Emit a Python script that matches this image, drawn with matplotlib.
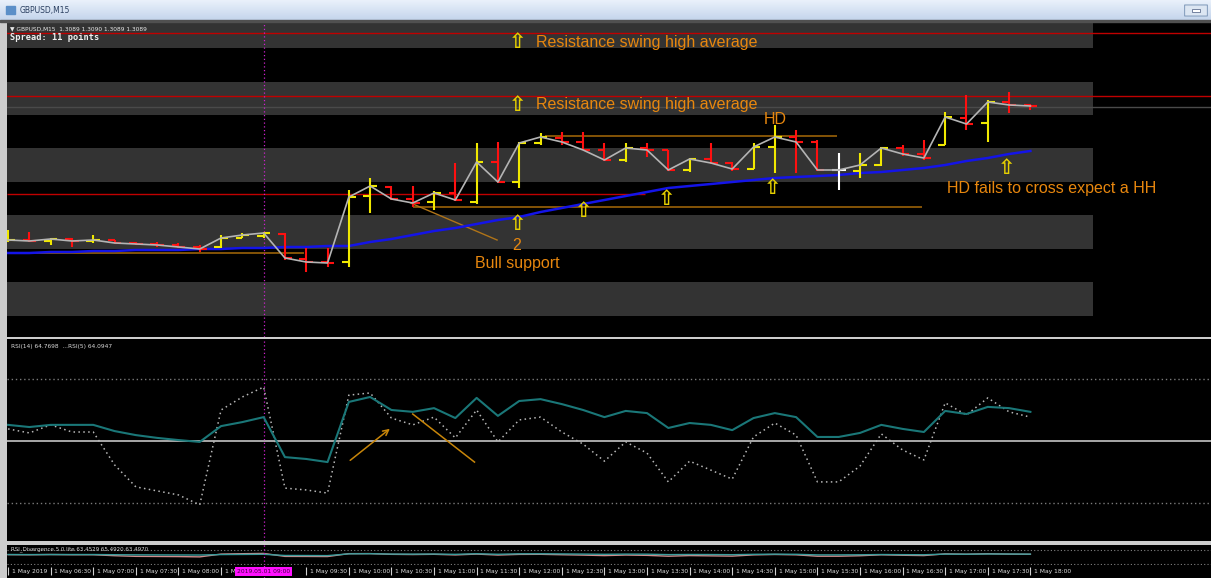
import numpy as np
import matplotlib
matplotlib.use("Agg")
import matplotlib.pyplot as plt
from matplotlib.colors import LinearSegmentedColormap
from matplotlib.patches import Rectangle, FancyBboxPatch

# ---------------- data ----------------
open_ = [1.30759, 1.30760, 1.30759, 1.30761, 1.30759, 1.30760, 1.30757, 1.30756, 1.30755, 1.30753,
         1.30753, 1.30762, 1.30764, 1.30766, 1.30741, 1.30738, 1.30738, 1.30804, 1.30813, 1.30801,
         1.30798, 1.30807, 1.30798, 1.30838, 1.30818, 1.30857, 1.30862, 1.30858, 1.30850, 1.30840,
         1.30852, 1.30850, 1.30830, 1.30841, 1.30837, 1.30831, 1.30853, 1.30863, 1.30858, 1.30830,
         1.30829, 1.30835, 1.30852, 1.30846, 1.30855, 1.30882, 1.30877, 1.30898, 1.30895]
high_ = [1.30770, 1.30768, 1.30762, 1.30762, 1.30765, 1.30760, 1.30758, 1.30758, 1.30757, 1.30755,
         1.30765, 1.30767, 1.30768, 1.30767, 1.30752, 1.30752, 1.30810, 1.30822, 1.30814, 1.30814,
         1.30809, 1.30837, 1.30857, 1.30858, 1.30858, 1.30867, 1.30868, 1.30868, 1.30857, 1.30857,
         1.30857, 1.30850, 1.30842, 1.30857, 1.30838, 1.30857, 1.30875, 1.30870, 1.30860, 1.30847,
         1.30847, 1.30853, 1.30855, 1.30860, 1.30888, 1.30905, 1.30900, 1.30908, 1.30896]
low_ = [1.30758, 1.30758, 1.30755, 1.30753, 1.30757, 1.30756, 1.30755, 1.30753, 1.30752, 1.30748,
        1.30752, 1.30762, 1.30762, 1.30740, 1.30728, 1.30733, 1.30733, 1.30787, 1.30800, 1.30793,
        1.30790, 1.30799, 1.30796, 1.30817, 1.30812, 1.30855, 1.30855, 1.30850, 1.30839, 1.30838,
        1.30843, 1.30829, 1.30828, 1.30836, 1.30829, 1.30831, 1.30827, 1.30827, 1.30829, 1.30810,
        1.30822, 1.30834, 1.30844, 1.30840, 1.30855, 1.30870, 1.30858, 1.30887, 1.30890]
close_ = [1.30760, 1.30759, 1.30761, 1.30759, 1.30760, 1.30757, 1.30756, 1.30755, 1.30753, 1.30751,
          1.30762, 1.30765, 1.30767, 1.30742, 1.30738, 1.30737, 1.30803, 1.30814, 1.30801, 1.30797,
          1.30807, 1.30800, 1.30838, 1.30818, 1.30857, 1.30863, 1.30858, 1.30850, 1.30840, 1.30852,
          1.30850, 1.30830, 1.30841, 1.30837, 1.30831, 1.30853, 1.30863, 1.30858, 1.30830, 1.30830,
          1.30835, 1.30852, 1.30846, 1.30842, 1.30883, 1.30876, 1.30898, 1.30895, 1.30894]
ma_blue = [1.30747, 1.30747, 1.30748, 1.30748, 1.30749, 1.30749, 1.30750, 1.30750, 1.30750, 1.30751,
           1.30751, 1.30752, 1.30752, 1.30753, 1.30753, 1.30754, 1.30754, 1.30758, 1.30761, 1.30765,
           1.30769, 1.30772, 1.30776, 1.30780, 1.30783, 1.30788, 1.30792, 1.30796, 1.30800, 1.30804,
           1.30808, 1.30812, 1.30814, 1.30816, 1.30818, 1.30820, 1.30822, 1.30823, 1.30824, 1.30825,
           1.30827, 1.30828, 1.30830, 1.30832, 1.30835, 1.30839, 1.30842, 1.30846, 1.30849]

band_low = [1.30952, 1.30885, 1.30818, 1.30751, 1.30684]
band_high = [1.30985, 1.30918, 1.30852, 1.30785, 1.30718]

red_levels = [1.30967, 1.30904]          # full width
red_partial = 1.30806                    # left part only
bid_level = 1.30893
orange_levels = [(1.30864, 25.2, 38.9), (1.30793, 19.0, 42.9), (1.30747, -0.05, 13.9)]

rsi_slow = [55.2, 54.5, 55.2, 55.2, 55.2, 53.2, 51.9, 51.0, 50.3, 49.7,
            54.8, 56.1, 57.7, 44.8, 44.2, 43.2, 62.6, 64.2, 60.0, 59.4,
            60.6, 57.4, 63.9, 58.1, 62.9, 63.5, 61.9, 60.0, 57.7, 59.7,
            59.0, 54.2, 55.8, 55.2, 53.5, 57.4, 59.0, 57.7, 51.3, 51.3,
            52.6, 55.2, 53.9, 52.9, 59.7, 58.7, 61.0, 60.6, 59.4]
rsi_fast = [53.9, 52.6, 55.2, 52.9, 52.9, 42.3, 35.2, 33.9, 32.6, 29.4,
            60.0, 64.2, 67.4, 34.8, 34.2, 33.2, 64.8, 65.5, 57.4, 55.2,
            57.7, 51.0, 60.0, 49.7, 56.8, 57.7, 52.9, 49.0, 43.5, 49.7,
            46.1, 36.8, 43.5, 40.6, 37.7, 51.3, 55.8, 51.9, 36.8, 36.8,
            41.9, 52.3, 47.1, 43.9, 62.3, 58.4, 63.9, 59.4, 57.7]
rsi_levels = [70, 50, 30]

tick_labels = ["1 May 2019", "1 May 06:30", "1 May 07:00", "1 May 07:30", "1 May 08:00",
               "1 May 08:30", "1 May 09:00", "1 May 09:30", "1 May 10:00", "1 May 10:30",
               "1 May 11:00", "1 May 11:30", "1 May 12:00", "1 May 12:30", "1 May 13:00",
               "1 May 13:30", "1 May 14:00", "1 May 14:30", "1 May 15:00", "1 May 15:30",
               "1 May 16:00", "1 May 16:30", "1 May 17:00", "1 May 17:30", "1 May 18:00"]
tick_bars = list(range(0, 49, 2))
cursor_bar = 12

# ---------------- figure ----------------
W, H = 1211, 578
fig = plt.figure(figsize=(W / 100, H / 100), dpi=100)
fig.patch.set_facecolor('#cccccc')


def pax(x0, y0, x1, y1):
    return fig.add_axes([x0 / W, 1 - y1 / H, (x1 - x0) / W, (y1 - y0) / H])


XL = (-0.05, 56.48)
n = len(close_)
x = np.arange(n)
o, h, l, c = map(np.array, (open_, high_, low_, close_))
bar_col = np.where(c > o, '#f0e800', np.where(c < o, '#ff1010', '#ffffff'))

ORANGE = '#e8870e'
ARROW_Y = '#e6d000'
MAG = '#cc22cc'

# title bar
axt = pax(0, 0, W, 20)
cm = LinearSegmentedColormap.from_list('tb', ['#eaf1fb', '#c4d5ec'])
axt.imshow(np.linspace(0, 1, 32)[:, None], cmap=cm, aspect='auto', extent=[0, 1, 0, 1])
axt.set_xlim(0, 1); axt.set_ylim(0, 1); axt.axis('off')
axt.add_patch(Rectangle((6 / W, 0.3), 9 / W, 0.4, color='#5b8fc8'))
axt.text(20 / W, 0.5, "GBPUSD,M15", fontsize=5.5, color='#2a3f60', va='center', ha='left')
axt.add_patch(FancyBboxPatch((1187 / W, 0.2), 18 / W, 0.55, boxstyle='round,pad=0.002',
                             fc='#dce6f2', ec='#8aa2c0', lw=0.8))
axt.add_patch(Rectangle((1192 / W, 0.42), 8 / W, 0.12, fc='white', ec='#607090', lw=0.6))
fig.patches.append(Rectangle((0, 1 - 22 / H), 1, 2 / H, transform=fig.transFigure,
                             color='#505050', zorder=0))

# ---------------- main price panel ----------------
ax = pax(7, 22, W, 337)
ax.set_facecolor('black')
ax.set_xlim(*XL)
ax.set_ylim(1.30663, 1.30978)
for lo, hi in zip(band_low, band_high):
    ax.fill_between([XL[0], 50.94], lo, hi, color='#333333', lw=0, zorder=0)
for lv in red_levels:
    ax.axhline(lv, color='#c00000', lw=1.0, zorder=1)
ax.hlines(red_partial, XL[0], 29.9, color='#c00000', lw=1.0, zorder=1)
ax.axhline(bid_level, color='#4a4a4a', lw=1.0, zorder=0.5)
for lv, x0, x1 in orange_levels:
    ax.hlines(lv, x0, x1, color='#a86a08', lw=1.1, zorder=1)
ax.plot([18.9, 22.96], [1.30797, 1.30760], color='#b07418', lw=1.0, zorder=1)
ax.axvline(cursor_bar, color=MAG, lw=0.9, ls=(0, (1, 2)), zorder=1)
ax.plot(x, ma_blue, color='#1414e8', lw=1.8, zorder=2)

tk = 0.32
ax.vlines(x, l, h, colors=bar_col, lw=1.5, zorder=3)
ax.hlines(o, x - tk, x, colors=bar_col, lw=1.5, zorder=3)
ax.hlines(c, x, x + tk, colors=bar_col, lw=1.5, zorder=3)
ax.plot(x, c, color='#b4b4b4', lw=1.2, zorder=4)

tfont = dict(family='Liberation Sans', color=ORANGE, fontsize=11.5)
afont = dict(family='DejaVu Sans', color=ARROW_Y, fontsize=15, fontweight='bold',
             ha='center', va='center')
for yv in (1.30958, 1.30895):
    ax.text(23.94, yv, '\u21e7', **afont, zorder=6)
    ax.text(24.8, yv, 'Resistance swing high average', va='center', ha='left', **tfont, zorder=6)
for bx, yv in [(23.94, 1.30776), (27.0, 1.30789), (30.9, 1.30801), (35.9, 1.30812), (46.9, 1.30832)]:
    ax.text(bx, yv, '\u21e7', **afont, zorder=6)
ax.text(36.0, 1.30881, 'HD', ha='center', va='center', **tfont, zorder=6)
ax.text(44.1, 1.30812, 'HD fails to cross expect a HH', ha='left', va='center', **tfont, zorder=6)
ax.text(21.9, 1.30736, 'Bull support', ha='left', va='center', **tfont, zorder=6)
ax.text(23.9, 1.30755, '2', ha='center', va='center', **tfont, zorder=6)

ax.text(0.0025, 0.978, "\u25bc GBPUSD,M15  1.3089 1.3090 1.3089 1.3089", transform=ax.transAxes,
        fontsize=4.2, color='#e8e8e8', family='DejaVu Sans', va='center', ha='left')
ax.text(0.0025, 0.95, "Spread: 11 points", transform=ax.transAxes,
        fontsize=6.2, color='#f0f0f0', family='DejaVu Sans Mono', fontweight='bold',
        va='center', ha='left')
ax.set_xticks([]); ax.set_yticks([])
for s in ax.spines.values():
    s.set_visible(False)

# ---------------- RSI panel ----------------
ar = pax(7, 339, W, 541)
ar.set_facecolor('black')
ar.set_xlim(*XL)
ar.set_ylim(17.74, 82.9)
ar.axhline(rsi_levels[0], color='#7a7a7a', lw=1.0, ls=(0, (1, 2)))
ar.axhline(rsi_levels[1], color='#a8a8a8', lw=1.4)
ar.axhline(rsi_levels[2], color='#7a7a7a', lw=1.0, ls=(0, (1, 2)))
ar.axvline(cursor_bar, color=MAG, lw=0.9, ls=(0, (1, 2)))
ar.plot(x, rsi_fast, color='#b8b8b8', lw=1.1, ls=(0, (1, 2.2)))
ar.plot(x, rsi_slow, color='#1a7778', lw=1.5)
ar.annotate('', xy=(18.03, 54.5), xytext=(15.96, 43.2),
            arrowprops=dict(arrowstyle='->', color='#c8860a', lw=1.1, mutation_scale=10))
ar.plot([19.0, 21.9], [58.7, 43.2], color='#c8860a', lw=1.1)
ar.text(0.003, 0.965, "RSI(14) 64.7698  ...RSI(5) 64.0947", transform=ar.transAxes,
        fontsize=4.2, color='#d8d8d8', va='center', ha='left')
ar.set_xticks([]); ar.set_yticks([])
for s in ar.spines.values():
    s.set_visible(False)

# ---------------- small divergence panel ----------------
am = pax(7, 545, W, 565)
am.set_facecolor('black')
am.set_xlim(*XL)
am.set_ylim(-60, 160)
for fy in (0.75, 0.05):
    am.plot([0, 1], [fy, fy], transform=am.transAxes, color='#808080', lw=0.8, ls=(0, (1, 2)))
am.plot(x, rsi_fast, color='#d08c8c', lw=1.0)
am.plot(x, rsi_slow, color='#3a9c9c', lw=1.0)
am.axvline(cursor_bar, color=MAG, lw=0.9, ls=(0, (1, 2)))
am.text(0.003, 0.78, "RSI_Divergence 5.0 lite 63.4529 65.4920 63.4970", transform=am.transAxes,
        fontsize=4.0, color='#d8d8d8', va='center', ha='left')
am.set_xticks([]); am.set_yticks([])
for s in am.spines.values():
    s.set_visible(False)

# ---------------- time axis strip ----------------
al = pax(7, 565, W, H)
al.set_facecolor('black')
al.set_xlim(*XL)
al.set_ylim(0, 1)
al.vlines(tick_bars, 0.25, 0.85, color='#d0d0d0', lw=0.8)
for b, lab in zip(tick_bars, tick_labels):
    if b == cursor_bar:
        continue  # hidden under the cursor time box
    al.text(b + 0.18, 0.5, lab, fontsize=4.3, color='#e0e0e0', va='center', ha='left')
al.axvline(cursor_bar, color=MAG, lw=0.9, ls=(0, (1, 2)))
al.text(cursor_bar, 0.5, "2019.05.01 09:00", fontsize=4.3, color='#3a003a', ha='center',
        va='center', zorder=5,
        bbox=dict(boxstyle='square,pad=0.35', fc='#ff10ff', ec='none'))
al.set_xticks([]); al.set_yticks([])
for s in al.spines.values():
    s.set_visible(False)

fig.savefig('out.png', dpi=100, facecolor=fig.get_facecolor())
